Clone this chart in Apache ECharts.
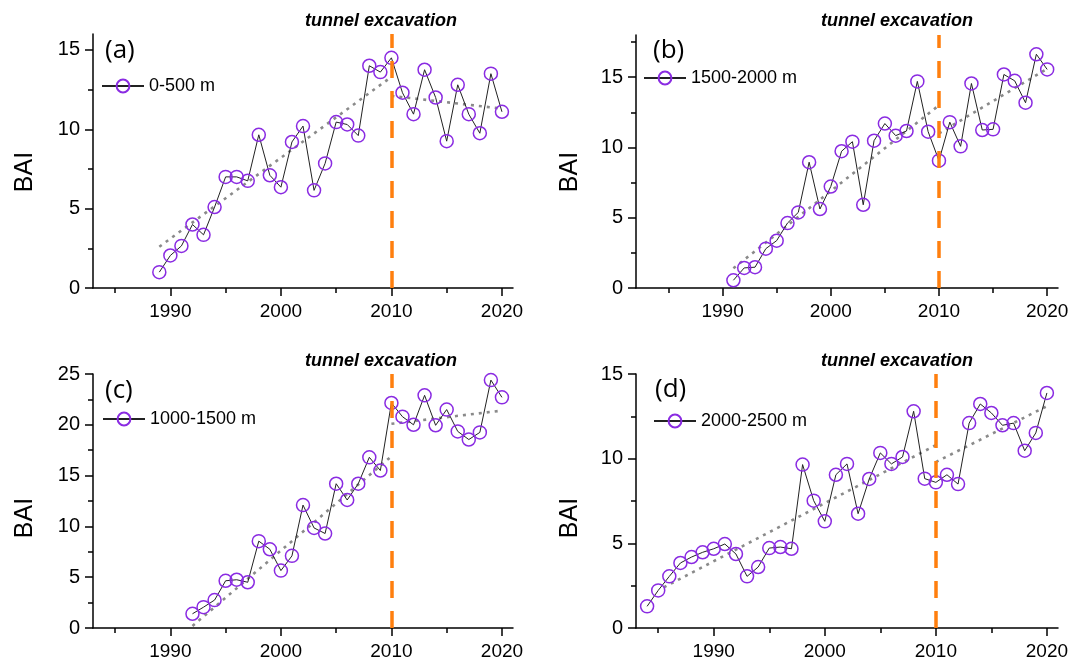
<!DOCTYPE html>
<html><head><meta charset="utf-8">
<script src="https://cdn.jsdelivr.net/npm/echarts@6/dist/echarts.min.js"></script>
<style>html,body{margin:0;padding:0;background:#fff}#c{width:1072px;height:665px}</style>
</head><body><div id="c"></div>
<script>
// ---------- data ----------
const nameA = '0-500 m', nameB = '1500-2000 m', nameC = '1000-1500 m', nameD = '2000-2500 m';
const startA = 1989;
const valuesA = [1.0,2.05,2.65,4.0,3.35,5.1,7.0,7.0,6.75,9.65,7.1,6.35,9.2,10.2,6.15,7.85,10.45,10.3,9.6,14.0,13.6,14.5,12.3,10.95,13.75,12.0,9.25,12.8,10.95,9.75,13.5,11.1];
const startB = 1991;
const valuesB = [0.55,1.43,1.48,2.8,3.37,4.62,5.38,8.95,5.62,7.22,9.73,10.41,5.92,10.48,11.7,10.84,11.17,14.7,11.12,9.06,11.8,10.08,14.55,11.24,11.29,15.19,14.74,13.18,16.63,15.55];
const startC = 1992;
const valuesC = [1.4,2.05,2.75,4.65,4.75,4.5,8.55,7.75,5.65,7.1,12.1,9.85,9.3,14.2,12.6,14.2,16.8,15.5,22.15,20.8,20.0,22.9,19.95,21.5,19.35,18.55,19.25,24.4,22.7];
const startD = 1984;
const valuesD = [1.28,2.22,3.05,3.84,4.19,4.47,4.68,4.96,4.37,3.05,3.6,4.72,4.78,4.68,9.65,7.52,6.3,9.05,9.69,6.75,8.8,10.34,9.69,10.1,12.8,8.82,8.6,9.05,8.5,12.1,13.23,12.7,11.97,12.1,10.47,11.52,13.88];
// trend lines (before / after excavation): [year, BAI] endpoints
const trendA = [[[1989,2.6],[2010,13.3]], [[2010,12.1],[2020,11.3]]];
const trendB = [[[1991,1.4],[2010,13.0]], [[2010,11.0],[2020,15.6]]];
const trendC = [[[1992,0.2],[2010,16.9]], [[2010,20.1],[2020,21.4]]];
const trendD = [[[1985.5,2.4],[2010,10.8]], [[2010,9.8],[2020,13.1]]];
const excavationYear = 2010;
const excavationLabel = 'tunnel excavation';
const xMajorTicks = [1990,2000,2010,2020];
const xMinorTicks = [1985,1995,2005,2015];
const yMajorA = [0,5,10,15], yMinorA = [2.5,7.5,12.5];
const yMajorB = [0,5,10,15], yMinorB = [2.5,7.5,12.5,17.5];
const yMajorC = [0,5,10,15,20,25], yMinorC = [2.5,7.5,12.5,17.5,22.5];
const yMajorD = [0,5,10,15], yMinorD = [2.5,7.5,12.5];
const xRangeA = [1983,2021], xRangeB = [1982,2021], xRangeC = [1983,2021], xRangeD = [1983,2021];
const yMaxA = 16, yMaxB = 18, yMaxC = 25, yMaxD = 15;
const tags = ['(a)','(b)','(c)','(d)'];
const yName = 'BAI';

// ---------- layout / style ----------
const layout = [
  {left:93, top:34, width:420, height:254, lgL:101, lgT:77, tagX:105, tagY:51, noteX:381, noteY:21, nameX:25, nameY:172},
  {left:636, top:35, width:422, height:253, lgL:643, lgT:69, tagX:653, tagY:51, noteX:897, noteY:21, nameX:570, nameY:172},
  {left:93, top:374, width:420, height:254, lgL:102, lgT:410, tagX:105, tagY:391, noteX:381, noteY:361, nameX:25, nameY:518},
  {left:636, top:374, width:422, height:254, lgL:653, lgT:412, tagX:655, tagY:390, noteX:897, noteY:361, nameX:570, nameY:518}
];
const FONT = 'Arial';
const PURPLE = '#8a2be2', ORANGE = '#ff7f0e';

function toPairs(start, vals){ return vals.map((v,i)=>[start+i, v]); }
const panels = [
  {name:nameA, data:toPairs(startA,valuesA), trend:trendA, xr:xRangeA, ymax:yMaxA, yMaj:yMajorA, yMin:yMinorA},
  {name:nameB, data:toPairs(startB,valuesB), trend:trendB, xr:xRangeB, ymax:yMaxB, yMaj:yMajorB, yMin:yMinorB},
  {name:nameC, data:toPairs(startC,valuesC), trend:trendC, xr:xRangeC, ymax:yMaxC, yMaj:yMajorC, yMin:yMinorC},
  {name:nameD, data:toPairs(startD,valuesD), trend:trendD, xr:xRangeD, ymax:yMaxD, yMaj:yMajorD, yMin:yMinorD}
];

const grid=[], xAxis=[], yAxis=[], series=[], legend=[], graphic=[];
const axLine = {show:true, lineStyle:{color:'#000', width:1.5}};
const plain = v => String(v);
panels.forEach((p,i)=>{
  const L = layout[i];
  grid.push({left:L.left, top:L.top, width:L.width, height:L.height, containLabel:false});
  xAxis.push({gridIndex:i, type:'value', position:'bottom', min:p.xr[0], max:p.xr[1], axisLine:axLine,
    axisTick:{show:true, customValues:xMajorTicks, length:8, lineStyle:{color:'#000', width:1.5}},
    axisLabel:{show:true, customValues:xMajorTicks, formatter:plain, fontSize:19, color:'#000', fontFamily:FONT, margin:14},
    splitLine:{show:false}});
  xAxis.push({gridIndex:i, type:'value', position:'bottom', min:p.xr[0], max:p.xr[1], axisLine:{show:false},
    axisTick:{show:true, customValues:xMinorTicks, length:5, lineStyle:{color:'#000', width:1.5}},
    axisLabel:{show:false}, splitLine:{show:false}});
  yAxis.push({gridIndex:i, type:'value', position:'left', min:0, max:p.ymax, axisLine:axLine,
    axisTick:{show:true, customValues:p.yMaj, length:8, lineStyle:{color:'#000', width:1.5}},
    axisLabel:{show:true, customValues:p.yMaj, formatter:plain, fontSize:20, color:'#000', fontFamily:FONT, margin:13},
    splitLine:{show:false}});
  yAxis.push({gridIndex:i, type:'value', position:'left', min:0, max:p.ymax, axisLine:{show:false},
    axisTick:{show:true, customValues:p.yMin, length:5, lineStyle:{color:'#000', width:1.5}},
    axisLabel:{show:false}, splitLine:{show:false}});
  const xi = 2*i, yi = 2*i;
  p.trend.forEach((seg,k)=>{
    series.push({type:'line', name:'trend'+i+'_'+k, xAxisIndex:xi, yAxisIndex:yi, data:seg,
      symbol:'none', silent:true, z:2,
      lineStyle:{color:'#8a8a8a', width:2.6, type:[3,5]}});
  });
  series.push({type:'line', name:p.name, xAxisIndex:xi, yAxisIndex:yi, data:p.data, z:3,
    symbol:'circle', symbolSize:13,
    itemStyle:{color:'rgba(0,0,0,0)', borderColor:PURPLE, borderWidth:1.5},
    lineStyle:{color:'#222', width:1}});
  series.push({type:'line', name:'excav'+i, xAxisIndex:xi, yAxisIndex:yi, data:[], z:5,
    markLine:{silent:true, symbol:'none', label:{show:false},
      lineStyle:{color:ORANGE, width:3.5, type:[17,13]},
      data:[{xAxis:excavationYear}]}});
  legend.push({data:[p.name], left:L.lgL, top:L.lgT, itemWidth:42, itemHeight:16, itemGap:0,
    padding:0, textStyle:{fontSize:18, color:'#000', fontFamily:FONT}});
  graphic.push({type:'text', x:L.tagX, y:L.tagY, style:{text:tags[i], font:'26px "Open Sans", sans-serif', fill:'#000', align:'left', verticalAlign:'middle'}});
  graphic.push({type:'text', x:L.noteX, y:L.noteY, style:{text:excavationLabel, font:'italic bold 18px Arial', fill:'#000', align:'center', verticalAlign:'middle'}});
  graphic.push({type:'text', x:L.nameX, y:L.nameY, rotation:Math.PI/2, style:{text:yName, font:'25px Arial', fill:'#000', align:'center', verticalAlign:'middle'}});
});

const chart = echarts.init(document.getElementById('c'), null, {renderer:'canvas'});
chart.setOption({animation:false, backgroundColor:'#fff', grid, xAxis, yAxis, series, legend, graphic});
</script></body></html>
